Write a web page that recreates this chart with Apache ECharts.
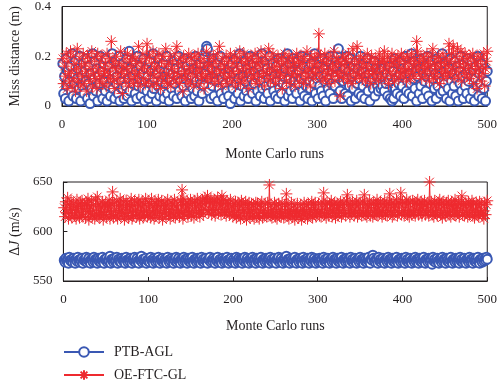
<!DOCTYPE html>
<html><head><meta charset="utf-8">
<script src="https://cdn.jsdelivr.net/npm/echarts@6/dist/echarts.min.js"></script>
<style>html,body{margin:0;padding:0;background:#fff}#c{width:500px;height:386px}</style>
</head><body><div id="c"></div>
<script>
const seriesNames = ['PTB-AGL', 'OE-FTC-GL'];
const xTicks = [0, 100, 200, 300, 400, 500];
const missTicks = [0, 0.2, 0.4];
const dJTicks = [550, 600, 650];

const missPTB = [
0.17,0.05,0.12,0.03,0.19,0.08,0.14,0.02,0.10,0.16,0.06,0.21,0.04,0.13,0.09,0.18,0.03,0.11,0.15,0.07,0.20,0.02,0.12,0.08,0.17,
0.05,0.14,0.10,0.19,0.03,0.09,0.16,0.01,0.13,0.07,0.21,0.04,0.11,0.18,0.06,0.15,0.02,0.12,0.09,0.20,0.05,0.14,0.03,0.17,0.10,
0.06,0.19,0.02,0.13,0.08,0.16,0.04,0.11,0.21,0.07,0.14,0.03,0.18,0.09,0.12,0.05,0.20,0.02,0.15,0.10,0.07,0.17,0.03,0.13,0.08,
0.19,0.04,0.11,0.22,0.06,0.15,0.02,0.12,0.09,0.18,0.05,0.14,0.03,0.20,0.08,0.11,0.16,0.04,0.13,0.07,0.19,0.02,0.10,0.15,0.06,
0.12,0.03,0.18,0.09,0.14,0.05,0.21,0.07,0.11,0.16,0.02,0.13,0.08,0.19,0.04,0.15,0.10,0.06,0.17,0.03,0.12,0.09,0.20,0.05,0.14,
0.02,0.11,0.16,0.07,0.13,0.04,0.18,0.09,0.15,0.03,0.12,0.20,0.06,0.10,0.17,0.04,0.14,0.08,0.19,0.02,0.11,0.16,0.05,0.13,0.09,
0.18,0.03,0.12,0.07,0.15,0.04,0.20,0.10,0.06,0.14,0.02,0.17,0.09,0.12,0.05,0.19,0.08,0.13,0.22,0.24,0.23,0.16,0.06,0.11,0.03,
0.15,0.08,0.19,0.04,0.12,0.10,0.17,0.02,0.14,0.07,0.20,0.05,0.11,0.16,0.03,0.13,0.09,0.18,0.06,0.12,0.04,0.15,0.01,0.10,0.17,
0.07,0.13,0.03,0.19,0.09,0.14,0.05,0.11,0.21,0.02,0.16,0.08,0.12,0.04,0.18,0.10,0.06,0.15,0.03,0.13,0.20,0.07,0.11,0.05,0.17,
0.09,0.14,0.02,0.19,0.06,0.12,0.16,0.04,0.10,0.21,0.07,0.13,0.03,0.18,0.08,0.15,0.05,0.11,0.20,0.02,0.14,0.09,0.17,0.06,0.12,
0.04,0.16,0.10,0.03,0.19,0.07,0.13,0.05,0.18,0.09,0.12,0.02,0.15,0.08,0.21,0.04,0.11,0.17,0.06,0.14,0.03,0.19,0.10,0.07,0.13,
0.05,0.18,0.09,0.14,0.02,0.11,0.20,0.06,0.16,0.04,0.12,0.08,0.19,0.03,0.15,0.10,0.07,0.17,0.02,0.13,0.09,0.21,0.05,0.14,0.11,
0.03,0.17,0.08,0.12,0.06,0.19,0.04,0.15,0.10,0.02,0.13,0.18,0.07,0.11,0.05,0.20,0.09,0.14,0.03,0.16,0.08,0.12,0.19,0.21,0.23,
0.17,0.06,0.13,0.03,0.18,0.10,0.15,0.05,0.11,0.20,0.04,0.14,0.08,0.19,0.02,0.12,0.16,0.07,0.13,0.03,0.18,0.09,0.15,0.05,0.11,
0.20,0.04,0.14,0.08,0.17,0.03,0.12,0.10,0.19,0.06,0.13,0.02,0.16,0.09,0.11,0.07,0.18,0.04,0.15,0.12,0.08,0.06,0.14,0.10,0.07,
0.12,0.08,0.15,0.06,0.11,0.09,0.13,0.04,0.10,0.16,0.03,0.12,0.02,0.14,0.03,0.19,0.07,0.11,0.05,0.17,0.09,0.13,0.04,0.18,0.08,
0.15,0.03,0.12,0.20,0.06,0.10,0.16,0.05,0.13,0.09,0.21,0.04,0.11,0.18,0.07,0.14,0.02,0.12,0.17,0.05,0.15,0.08,0.19,0.03,0.13,
0.10,0.16,0.06,0.12,0.20,0.04,0.14,0.09,0.18,0.02,0.11,0.15,0.07,0.13,0.03,0.19,0.08,0.12,0.16,0.05,0.10,0.21,0.06,0.14,0.09,
0.17,0.03,0.12,0.07,0.15,0.02,0.19,0.10,0.05,0.13,0.08,0.18,0.04,0.11,0.16,0.02,0.14,0.09,0.20,0.06,0.12,0.03,0.17,0.08,0.13,
0.05,0.19,0.10,0.15,0.03,0.12,0.18,0.06,0.14,0.02,0.11,0.16,0.08,0.20,0.04,0.13,0.09,0.17,0.03,0.12,0.07,0.15,0.02,0.10,0.14
];

const missOE = [
0.19,0.09,0.16,0.12,0.21,0.07,0.18,0.13,0.10,0.22,0.14,0.08,0.20,0.11,0.17,0.06,0.15,0.23,0.10,0.13,0.19,0.08,0.16,0.12,0.21,
0.09,0.17,0.14,0.06,0.20,0.12,0.18,0.10,0.15,0.22,0.08,0.13,0.19,0.11,0.16,0.07,0.21,0.14,0.10,0.18,0.12,0.20,0.09,0.15,0.13,
0.17,0.08,0.21,0.14,0.11,0.19,0.12,0.26,0.16,0.10,0.18,0.07,0.15,0.20,0.11,0.13,0.17,0.09,0.22,0.14,0.05,0.16,0.12,0.19,0.10,
0.15,0.21,0.08,0.13,0.18,0.11,0.16,0.20,0.09,0.14,0.19,0.12,0.17,0.10,0.24,0.13,0.08,0.18,0.15,0.21,0.11,0.16,0.09,0.19,0.25,
0.14,0.10,0.20,0.13,0.17,0.08,0.22,0.12,0.15,0.19,0.09,0.16,0.11,0.21,0.14,0.07,0.18,0.12,0.20,0.10,0.16,0.23,0.13,0.09,0.17,
0.12,0.20,0.08,0.15,0.18,0.11,0.14,0.21,0.10,0.24,0.13,0.17,0.09,0.19,0.12,0.16,0.06,0.20,0.14,0.11,0.18,0.13,0.09,0.21,0.15,
0.10,0.19,0.13,0.16,0.08,0.20,0.12,0.17,0.14,0.21,0.09,0.15,0.18,0.11,0.13,0.19,0.07,0.16,0.12,0.22,0.10,0.17,0.14,0.19,0.11,
0.16,0.13,0.20,0.09,0.18,0.12,0.15,0.21,0.10,0.24,0.14,0.17,0.08,0.19,0.13,0.16,0.11,0.20,0.09,0.15,0.18,0.12,0.21,0.14,0.10,
0.17,0.13,0.20,0.08,0.16,0.19,0.11,0.14,0.22,0.09,0.18,0.12,0.15,0.21,0.10,0.17,0.13,0.19,0.07,0.16,0.14,0.20,0.11,0.18,0.12,
0.15,0.21,0.09,0.17,0.13,0.19,0.10,0.16,0.22,0.12,0.18,0.14,0.08,0.20,0.13,0.17,0.11,0.23,0.15,0.10,0.19,0.14,0.21,0.12,0.16,
0.09,0.18,0.14,0.20,0.11,0.16,0.13,0.19,0.07,0.17,0.12,0.21,0.15,0.10,0.18,0.14,0.20,0.09,0.16,0.12,0.19,0.13,0.17,0.08,0.15,
0.21,0.12,0.18,0.10,0.16,0.20,0.13,0.17,0.09,0.19,0.14,0.11,0.22,0.15,0.12,0.18,0.08,0.20,0.14,0.16,0.11,0.19,0.13,0.17,0.21,
0.15,0.29,0.12,0.20,0.16,0.10,0.18,0.14,0.21,0.11,0.17,0.13,0.19,0.09,0.15,0.20,0.12,0.17,0.14,0.22,0.10,0.16,0.19,0.13,0.18,
0.12,0.04,0.17,0.14,0.20,0.11,0.16,0.19,0.13,0.18,0.10,0.21,0.15,0.12,0.17,0.09,0.23,0.14,0.19,0.11,0.16,0.24,0.13,0.18,0.12,
0.20,0.15,0.11,0.17,0.13,0.19,0.10,0.16,0.21,0.14,0.12,0.18,0.09,0.20,0.15,0.13,0.17,0.11,0.19,0.14,0.16,0.10,0.21,0.13,0.18,
0.12,0.19,0.15,0.22,0.11,0.17,0.14,0.20,0.09,0.16,0.13,0.18,0.21,0.12,0.17,0.10,0.19,0.14,0.16,0.20,0.11,0.18,0.13,0.21,0.15,
0.12,0.19,0.14,0.17,0.10,0.20,0.15,0.13,0.18,0.11,0.21,0.14,0.16,0.19,0.12,0.17,0.26,0.22,0.15,0.18,0.13,0.20,0.11,0.16,0.19,
0.14,0.17,0.12,0.21,0.15,0.18,0.10,0.16,0.20,0.13,0.23,0.11,0.17,0.14,0.19,0.12,0.16,0.20,0.09,0.18,0.15,0.13,0.21,0.11,0.17,
0.14,0.19,0.12,0.16,0.25,0.18,0.13,0.21,0.15,0.24,0.11,0.17,0.20,0.14,0.23,0.12,0.18,0.16,0.22,0.10,0.19,0.15,0.13,0.21,0.17,
0.12,0.19,0.15,0.11,0.20,0.16,0.13,0.21,0.09,0.18,0.14,0.17,0.07,0.20,0.15,0.12,0.19,0.10,0.16,0.13,0.21,0.08,0.15,0.18,0.22
];

const dJPTB = [
571,569,573,570,572,568,574,571,570,572,569,573,571,568,572,570,574,571,569,572,570,573,568,571,572,
570,574,569,571,573,570,568,572,571,569,574,570,572,571,568,573,570,572,569,571,574,570,568,572,571,
573,569,571,570,575,568,572,571,569,573,570,571,574,568,572,570,571,569,573,571,570,572,568,574,571,
569,572,570,573,571,568,572,570,574,569,571,573,570,568,572,571,575,569,572,570,571,573,568,571,570,
572,569,574,571,570,568,573,571,569,572,570,574,571,568,572,570,573,569,571,572,570,568,574,571,569,
572,570,573,571,568,572,570,574,569,571,573,570,568,572,571,569,574,570,572,571,568,573,570,572,569,
571,574,570,568,572,571,569,573,570,572,571,568,574,570,572,569,571,573,570,568,572,571,574,569,571,
570,573,571,568,572,570,574,569,571,572,570,568,573,571,569,572,570,574,571,568,572,570,573,569,571,
572,570,568,574,571,569,573,570,572,571,568,572,570,574,569,571,573,570,568,572,571,569,574,570,572,
571,568,573,570,572,569,571,574,570,568,572,571,569,573,570,572,571,568,574,570,572,569,571,573,570,
568,572,571,574,569,571,573,570,568,572,571,569,575,570,572,571,568,573,570,572,569,571,574,570,568,
572,571,569,573,570,572,568,574,571,569,572,570,573,571,568,572,570,574,569,571,573,570,568,572,571,
569,573,570,572,571,568,574,570,572,569,571,573,570,568,572,571,569,574,570,572,571,568,573,570,572,
569,571,574,570,568,572,571,569,573,570,572,571,568,574,570,572,569,571,573,570,568,572,571,569,574,
570,572,571,568,573,570,572,569,571,574,570,568,572,571,576,573,570,569,572,571,568,574,570,572,569,
571,573,570,568,572,571,569,574,570,572,571,568,573,570,572,569,571,574,570,568,572,571,569,573,570,
572,571,568,574,570,572,569,571,573,570,568,572,571,569,574,570,572,571,568,573,570,572,569,571,574,
570,568,572,571,569,573,570,572,571,567,574,570,572,569,571,573,570,568,572,571,569,574,570,572,571,
568,573,570,572,569,571,574,570,568,572,571,569,573,570,572,571,568,574,570,572,569,571,573,570,568,
572,571,569,574,570,572,571,568,573,570,572,569,571,574,570,568,572,571,569,573,570,572,571,574,572
];

const dJOE = [
624,615,630,619,634,613,627,618,631,614,622,628,616,625,613,632,619,626,614,629,617,631,615,623,627,
614,629,620,633,612,626,618,631,615,627,621,613,632,617,635,616,628,614,625,619,630,612,627,617,629,
615,626,620,632,613,628,617,640,614,629,621,616,631,613,626,619,633,615,627,618,630,612,622,631,616,
628,614,626,619,633,613,627,616,631,621,615,629,617,632,613,626,619,630,614,628,616,633,621,615,630,
617,628,614,633,619,626,613,630,616,628,621,632,614,626,618,631,612,627,619,629,615,626,632,617,622,
613,630,619,628,616,632,614,626,618,629,621,615,631,619,642,613,633,617,627,620,630,615,628,619,632,
616,629,621,614,631,626,618,633,619,628,615,630,621,632,617,628,634,622,631,636,619,630,622,633,617,
629,621,632,616,630,622,634,619,628,631,617,636,622,632,619,629,616,631,620,628,617,632,619,626,615,
628,617,630,614,621,629,616,627,613,631,619,628,615,622,630,612,627,618,629,614,620,628,616,627,613,
622,629,615,628,618,613,627,619,630,614,621,616,628,618,615,629,619,647,616,627,614,622,618,629,615,
627,613,620,628,616,622,615,629,618,614,627,620,638,616,628,613,622,618,629,615,620,627,612,621,618,
628,614,620,616,627,612,622,618,629,615,620,627,613,628,617,622,616,630,614,627,619,629,615,622,618,
628,616,622,615,630,619,639,618,627,614,629,619,616,628,621,631,615,627,618,629,614,622,628,616,627,
619,630,615,627,618,629,621,616,631,637,619,628,615,627,618,630,621,616,628,619,631,615,627,618,629,
621,616,630,619,637,617,628,615,627,619,631,616,628,621,615,629,619,627,617,632,616,628,619,630,621,
615,628,619,631,617,627,616,629,621,638,619,628,615,630,617,627,621,632,616,629,619,628,639,617,630,
621,616,629,619,632,617,628,615,630,621,617,631,619,628,616,629,621,632,617,627,619,630,616,628,621,
631,617,627,619,629,616,650,621,630,617,628,615,631,619,627,616,629,621,632,617,628,614,630,619,627,
616,629,619,631,617,627,615,630,621,628,617,632,616,627,619,630,615,628,621,636,617,627,616,629,619,
628,615,630,617,627,619,631,616,628,614,621,629,617,627,615,630,619,628,616,621,613,629,617,627,631
];

const BLUE = '#3a58b3';
const RED = '#ee2a2f';
const FONT = 'Liberation Serif';
const TXT = '#231f20';
const STAR = 'path://M0,-10L0,10M-10,0L10,0M-7.07,-7.07L7.07,7.07M-7.07,7.07L7.07,-7.07';

function pairs(arr) { return arr.map((v, i) => [i + 1, v]); }

function xAxis(gi) {
  return {
    type: 'value', gridIndex: gi, min: xTicks[0], max: xTicks[xTicks.length - 1], interval: xTicks[1] - xTicks[0],
    name: 'Monte Carlo runs', nameLocation: 'middle', nameGap: gi === 0 ? 41 : 38,
    nameTextStyle: { fontFamily: FONT, fontSize: 14, color: TXT },
    axisLine: { lineStyle: { color: TXT, width: 1 } },
    axisTick: { inside: true, length: 4, lineStyle: { color: TXT } },
    axisLabel: { fontFamily: FONT, fontSize: 13, color: TXT, margin: 12 },
    splitLine: { show: false }
  };
}

const option = {
  animation: false,
  backgroundColor: '#fff',
  grid: [
    { left: 62, top: 6, width: 429, height: 100, show: true, borderColor: TXT, borderWidth: 1 },
    { left: 62, top: 182, width: 429, height: 99, show: true, borderColor: TXT, borderWidth: 1 }
  ],
  xAxis: [xAxis(0), xAxis(1)],
  yAxis: [
    {
      type: 'value', gridIndex: 0, min: missTicks[0], max: missTicks[missTicks.length - 1], interval: missTicks[1] - missTicks[0],
      name: 'Miss distance (m)', nameLocation: 'middle', nameGap: 40,
      nameTextStyle: { fontFamily: FONT, fontSize: 14, color: TXT },
      axisLine: { show: true, lineStyle: { color: TXT } },
      axisTick: { inside: true, length: 4, lineStyle: { color: TXT } },
      axisLabel: { fontFamily: FONT, fontSize: 13, color: TXT, margin: 11, formatter: v => (v === 0 ? '0' : v.toFixed(1)) },
      splitLine: { show: false }
    },
    {
      type: 'value', gridIndex: 1, min: dJTicks[0], max: dJTicks[dJTicks.length - 1], interval: dJTicks[1] - dJTicks[0],
      name: 'Δ{i|J} (m/s)', nameLocation: 'middle', nameGap: 40,
      nameTextStyle: { fontFamily: FONT, fontSize: 14, color: TXT, rich: { i: { fontFamily: FONT, fontSize: 14, fontStyle: 'italic', color: TXT } } },
      axisLine: { show: true, lineStyle: { color: TXT } },
      axisTick: { inside: true, length: 4, lineStyle: { color: TXT } },
      axisLabel: { fontFamily: FONT, fontSize: 13, color: TXT, margin: 11 },
      splitLine: { show: false }
    }
  ],
  legend: {
    orient: 'vertical', left: 63, top: 345, padding: 0, itemWidth: 40, itemHeight: 12, itemGap: 9,
    textStyle: { fontFamily: FONT, fontSize: 14, color: TXT, padding: [0, 0, 0, 5] },
    data: seriesNames
  },
  series: [
    {
      name: seriesNames[0], type: 'line', xAxisIndex: 0, yAxisIndex: 0, data: pairs(missPTB),
      symbol: 'emptyCircle', symbolSize: 9, showAllSymbol: true,
      lineStyle: { color: BLUE, width: 1 }, itemStyle: { color: BLUE, borderColor: BLUE, borderWidth: 1 }
    },
    {
      name: seriesNames[1], type: 'line', xAxisIndex: 0, yAxisIndex: 0, data: pairs(missOE),
      symbol: STAR, symbolSize: 12, showAllSymbol: true,
      lineStyle: { color: RED, width: 1 }, itemStyle: { color: RED, borderColor: RED, borderWidth: 1 }
    },
    {
      name: seriesNames[0], type: 'line', xAxisIndex: 1, yAxisIndex: 1, data: pairs(dJPTB),
      symbol: 'emptyCircle', symbolSize: 9, showAllSymbol: true,
      lineStyle: { color: BLUE, width: 1 }, itemStyle: { color: BLUE, borderColor: BLUE, borderWidth: 1 }
    },
    {
      name: seriesNames[1], type: 'line', xAxisIndex: 1, yAxisIndex: 1, data: pairs(dJOE),
      symbol: STAR, symbolSize: 12, showAllSymbol: true,
      lineStyle: { color: RED, width: 1 }, itemStyle: { color: RED, borderColor: RED, borderWidth: 1 }
    }
  ]
};

const chart = echarts.init(document.getElementById('c'), null, { renderer: 'canvas' });
chart.setOption(option);
</script>
</body></html>
